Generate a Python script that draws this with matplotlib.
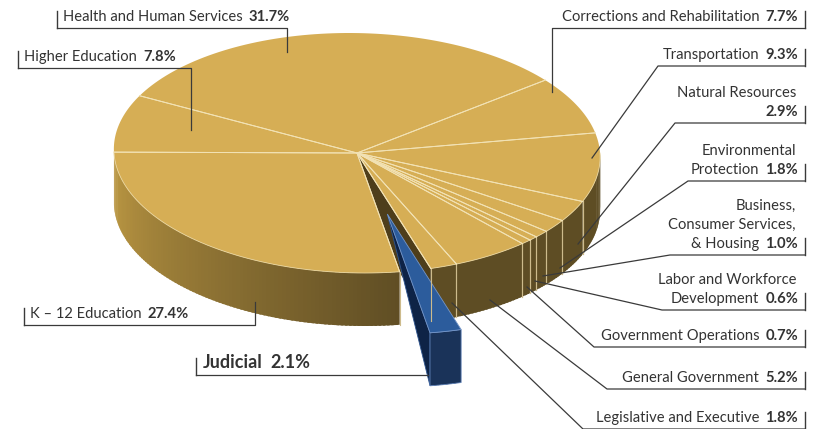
import numpy as np
import matplotlib.pyplot as plt
from matplotlib.patches import Polygon

# budget shares, clockwise from the Higher Ed / HHS boundary
names = ['Health and Human Services', 'Corrections and Rehabilitation', 'Transportation',
         'Natural Resources', 'Environmental\nProtection', 'Business,\nConsumer Services,\n& Housing',
         'Labor and Workforce\nDevelopment', 'Government Operations', 'General Government',
         'Legislative and Executive', 'Judicial', 'K \u2013 12 Education', 'Higher Education']
shares = [31.7, 7.7, 9.3, 2.9, 1.8, 1.0, 0.6, 0.7, 5.2, 1.8, 2.1, 27.4, 7.8]
pct_labels = ['31.7%', '7.7%', '9.3%', '2.9%', '1.8%', '1.0%', '0.6%', '0.7%', '5.2%', '1.8%', '2.1%', '27.4%', '7.8%']
highlight = 'Judicial'

# label layout: (side, text x, tick x, underline y, leader path to the pie)
layout = {
    'Health and Human Services':      ('L', 63, 57, 28, [(287, 28), (287, 52)]),
    'Higher Education':               ('L', 24, 18, 68, [(191, 68), (191, 130)]),
    'K \u2013 12 Education':          ('L', 30, 24, 325, [(255, 325), (255, 302)]),
    'Judicial':                       ('L', 203, 196, 375, [(428, 375)]),
    'Corrections and Rehabilitation': ('R', 798, 805, 28, [(552, 28), (552, 92)]),
    'Transportation':                 ('R', 798, 805, 66, [(658, 66), (592, 158)]),
    'Natural Resources':              ('R', 798, 805, 123, [(675, 123), (578, 244)]),
    'Environmental\nProtection':      ('R', 798, 805, 181, [(688, 181), (560, 268)]),
    'Business,\nConsumer Services,\n& Housing': ('R', 798, 805, 255, [(670, 255), (543, 276)]),
    'Labor and Workforce\nDevelopment': ('R', 798, 805, 310, [(662, 310), (535, 281)]),
    'Government Operations':          ('R', 798, 805, 347, [(594, 347), (527, 287)]),
    'General Government':             ('R', 798, 805, 389, [(607, 389), (490, 300)]),
    'Legislative and Executive':      ('R', 798, 805, 429, [(583, 429), (452, 303)]),
}

start_angle = 151.5
cx, cy, a, b, depth = 357, 153, 243, 120, 53
shear = 8
explode = 0.52
gold = '#D6AE55'
sep = '#F2E2B4'
font = ['Lato', 'DejaVu Sans']
txt = '#333333'

fig = plt.figure(figsize=(8.21, 4.29), dpi=100)
ax = fig.add_axes([0, 0, 1, 1])
ax.set_xlim(0, 821)
ax.set_ylim(429, 0)
ax.axis('off')


def pt(t, r=1.0, z=0.0, ex=(0.0, 0.0)):
    t = np.radians(t)
    u = r * np.cos(t) + ex[0]
    v = r * np.sin(t) + ex[1]
    return (cx + a * u - shear * v, cy - b * v + z)


def wall_color(t, blue=False):
    t = t % 360
    f = np.clip((t - 185) / 95.0, 0, 1) if t >= 180 else 0.0
    if blue:
        c0, c1 = np.array([0.11, 0.21, 0.37]), np.array([0.10, 0.20, 0.35])
    else:
        c0, c1 = np.array([0.73, 0.59, 0.26]), np.array([0.37, 0.30, 0.14])
    return tuple(c0 + (c1 - c0) * f)


bounds = start_angle - np.concatenate([[0], np.cumsum(shares)]) * 3.6
slices = [(names[i], bounds[i + 1], bounds[i]) for i in range(len(shares))]


def draw_wall(t0, t1, ex, blue=False):
    ts = np.linspace(t0, t1, max(2, int(abs(t1 - t0)) + 2))
    for u0, u1 in zip(ts[:-1], ts[1:]):
        m = (u0 + u1) / 2
        if np.sin(np.radians(m)) > 0:
            continue
        u1e = min(u1 + 0.6, t1)
        p = [pt(u0, ex=ex), pt(u1e, ex=ex), pt(u1e, z=depth, ex=ex), pt(u0, z=depth, ex=ex)]
        ax.add_patch(Polygon(p, closed=True, fc=wall_color(m, blue), ec='none'))


# main pie walls
for nm, t0, t1 in slices:
    if nm == highlight:
        continue
    draw_wall(t0, t1, (0, 0))
for nm, t0, t1 in slices:
    if nm == highlight:
        continue
    for t in (t0, t1):
        if np.sin(np.radians(t)) < 0:
            ax.plot([pt(t)[0], pt(t, z=depth)[0]], [pt(t)[1], pt(t, z=depth)[1]], color='#CDBB8C', lw=0.8)

# cut face left by the exploded slice
j = [s for s in slices if s[0] == highlight][0]
cut = [(cx, cy), pt(j[2]), pt(j[2], z=depth), (cx, cy + depth)]
ax.add_patch(Polygon(cut, closed=True, fc='#4E3E1B', ec='none'))

# top faces
for nm, t0, t1 in slices:
    if nm == highlight:
        continue
    ts = np.linspace(t0, t1, 80)
    p = [(cx, cy)] + [pt(t) for t in ts]
    ax.add_patch(Polygon(p, closed=True, fc=gold, ec='none'))
for nm, t0, t1 in slices:
    if nm == highlight:
        continue
    ts = np.linspace(max(t0, -180), min(t1, 0), 60)
    if ts[-1] > ts[0]:
        rim = np.array([pt(t) for t in ts])
        ax.plot(rim[:, 0], rim[:, 1], color='#E9D59E', lw=0.6)
for nm, t0, t1 in slices:
    for t in (t0, t1):
        ax.plot([cx, pt(t)[0]], [cy, pt(t)[1]], color=sep, lw=0.7)

# exploded slice
mid = np.radians((j[1] + j[2]) / 2)
ex = (explode * np.cos(mid), explode * np.sin(mid))
tip = pt(0, r=0, ex=ex)
side = [tip, pt(j[1], ex=ex), pt(j[1], z=depth, ex=ex)]
ax.add_patch(Polygon(side, closed=True, fc='#0E2346', ec='#2E5590', lw=0.6))
draw_wall(j[1], j[2], ex, blue=True)
ts = np.linspace(j[1], j[2], 20)
front = [pt(t, ex=ex) for t in ts] + [pt(t, z=depth, ex=ex) for t in ts[::-1]]
ax.add_patch(Polygon(front, closed=True, fc='none', ec='#5E80B5', lw=0.6))
ax.add_patch(Polygon([tip] + [pt(t, ex=ex) for t in ts], closed=True,
                     fc='#2C5C9C', ec='#7596C8', lw=0.6))

# labels
renderer = fig.canvas.get_renderer()
lh = 19
for i, nm in enumerate(names):
    sd, tx, tick_x, ly, path = layout[nm]
    big = nm == highlight
    fs = 13 if big else 10.6
    ty = ly - 7
    lines = nm.split('\n')
    if sd == 'L':
        t1 = ax.text(tx, ty, lines[-1], ha='left', va='baseline', fontsize=fs, color=txt,
                     family=font, fontweight='bold' if big else 'normal')
        bb = t1.get_window_extent(renderer)
        ax.text(bb.x1 + (8 if big else 6), ty, pct_labels[i], ha='left', va='baseline', fontsize=fs,
                color=txt, family=font, fontweight='bold')
    else:
        t2 = ax.text(tx, ty, pct_labels[i], ha='right', va='baseline', fontsize=fs, color=txt,
                     family=font, fontweight='bold')
        bb = t2.get_window_extent(renderer)
        if nm == 'Natural Resources':
            ax.text(tx - 2, ty - lh, nm, ha='right', va='baseline', fontsize=fs, color=txt, family=font)
        else:
            ax.text(bb.x0 - 6, ty, lines[-1], ha='right', va='baseline', fontsize=fs, color=txt, family=font)
            for k, ln in enumerate(reversed(lines[:-1])):
                ax.text(tx - 2, ty - lh * (k + 1), ln, ha='right', va='baseline', fontsize=fs,
                        color=txt, family=font)
    xs = [tick_x] + [p[0] for p in path]
    ys = [ly] + [p[1] for p in path]
    ax.plot(xs, ys, color='#3A3A3A', lw=0.9)
    ax.plot([tick_x, tick_x], [ly - 17, ly], color='#3A3A3A', lw=1.0)

fig.savefig('out.png', dpi=100)
